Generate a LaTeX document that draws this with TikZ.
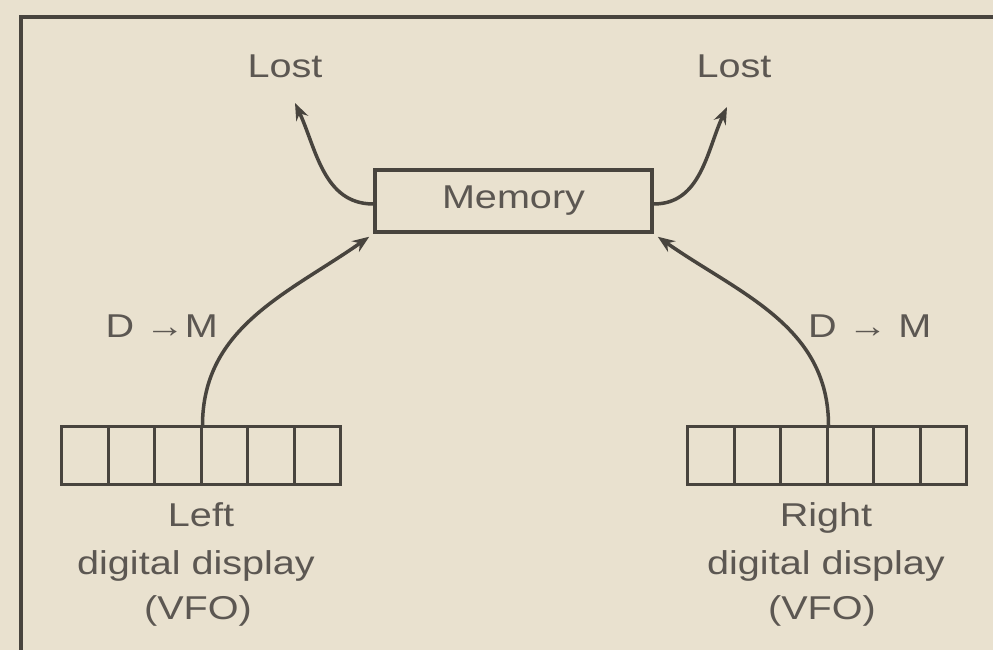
\documentclass[tikz,border=0pt]{standalone}
\usepackage{fontspec}
\setmainfont[FakeStretch=1.2]{Liberation Sans}
\usetikzlibrary{arrows.meta}
\definecolor{paper}{HTML}{E9E1CF}
\definecolor{ink}{HTML}{48443E}
\definecolor{txt}{HTML}{5C5752}
\begin{document}
\begin{tikzpicture}[x=1pt,y=1pt,
  lbl/.style={text=txt,font=\fontsize{33}{47}\selectfont,inner sep=0pt},
  boxln/.style={draw=ink,line width=3.5pt},
  arr/.style={draw=ink,line width=3.5pt,-{Stealth[length=17pt,width=13pt]}},
  cell/.style={draw=ink,line width=3pt,minimum width=46.5pt,minimum height=58pt,inner sep=0pt}]
\fill[paper] (0,0) rectangle (993,650);
\useasboundingbox (0,0) rectangle (993,650);
% frame
\coordinate (fbl) at (21,-10);
\coordinate (ftl) at (21,633);
\coordinate (ftr) at (1010,633);
\draw[ink,line width=4pt] (fbl) -- (ftl) -- (ftr);
% labels Lost
\node[lbl,anchor=base] (lostL) at (285,572) {Lost};
\node[lbl,anchor=base] (lostR) at (734,572) {Lost};
% memory
\node[boxln,lbl,minimum width=277pt,minimum height=62pt] (mem) at (513.5,449) {Memory};
% displays
\foreach \i in {1,...,6}{
  \node[cell] (L\i) at ({61.5+46.5*(\i-0.5)},194) {};
  \node[cell] (R\i) at ({687.5+46.5*(\i-0.5)},194) {};
}
% captions
\node[lbl,anchor=base] (l1) at (201,123) {Left};
\node[lbl,anchor=base] (l2) at (196,75) {digital display};
\node[lbl,anchor=base] (l3) at (198,30) {(VFO)};
\node[lbl,anchor=base] (r1) at (826,123) {Right};
\node[lbl,anchor=base] (r2) at (826,75) {digital display};
\node[lbl,anchor=base] (r3) at (822,30) {(VFO)};
% D->M labels
\node[lbl,anchor=base east] (dmL) at (218,312) {D →M};
\node[lbl,anchor=base west] (dmR) at (808,312) {D → M};
% arrow tips to Lost
\coordinate (tipL) at (295,547);
\coordinate (tipR) at (727,543);
\draw[arr] ([yshift=-3pt]mem.west) to[out=180,in=-65] (tipL);
\draw[arr] ([yshift=-3pt]mem.east) to[out=0,in=-115] (tipR);
% D->M arrows
\draw[arr] (L3.north east) to[out=90,in=215] ([shift={(-4pt,-3pt)}]mem.south west);
\draw[arr] (R3.north east) to[out=90,in=-35] ([shift={(4pt,-3pt)}]mem.south east);
\end{tikzpicture}
\end{document}
